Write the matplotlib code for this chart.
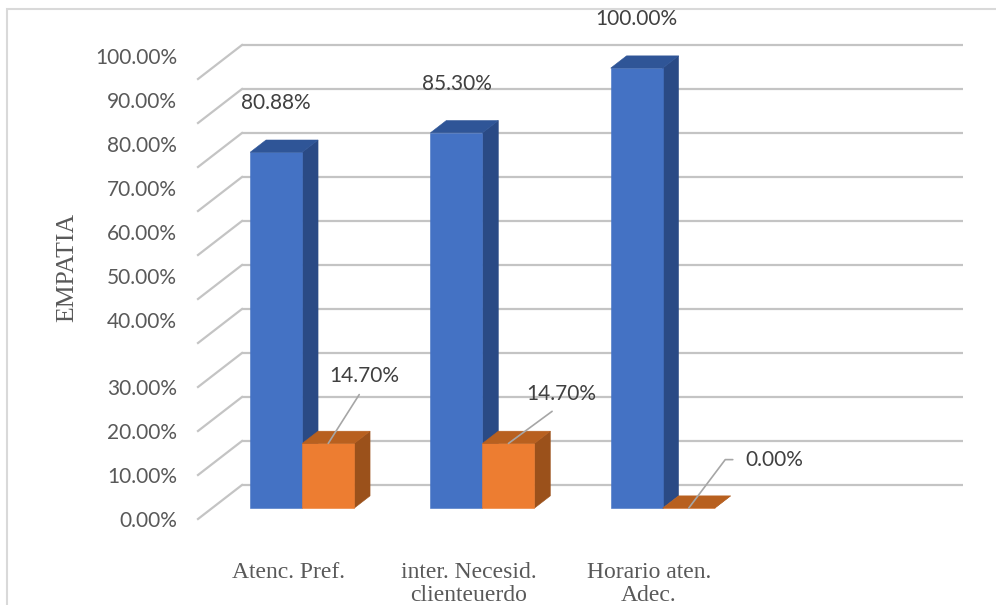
import matplotlib.pyplot as plt
import numpy as np
from matplotlib.patches import Polygon, Rectangle
from matplotlib.transforms import ScaledTranslation

categorias = ['Atenc. Pref.', 'inter. Necesid.\nclienteuerdo', 'Horario aten.\nAdec.']
serie_azul = [0.8088, 0.8530, 1.0000]
serie_naranja = [0.1470, 0.1470, 0.0000]
niveles = [0.0, 0.1, 0.2, 0.3, 0.4, 0.5, 0.6, 0.7, 0.8, 0.9, 1.0]
etiquetas_y = ['0.00%', '10.00%', '20.00%', '30.00%', '40.00%', '50.00%',
               '60.00%', '70.00%', '80.00%', '90.00%', '100.00%']
n_cat = 4  # la cuarta categoria queda vacia

plt.rcParams['font.family'] = ['Lato', 'DejaVu Sans']

# profundidad oblicua (unidades de datos para todo el fondo)
PROF_X = 0.2441
PROF_Y = 0.0773
D_FRENTE = 0.32
D_FONDO = 0.68
ANCHO = 0.2885

AZUL = ('#4472c4', '#2f5597', '#2a4a85')      # frente, tapa, lado
NARANJA = ('#ed7d31', '#b8601f', '#9b511b')


def caja(ax, x0, valor, colores):
    fx, fy = x0 + D_FRENTE * PROF_X, D_FRENTE * PROF_Y
    bx, by = x0 + D_FONDO * PROF_X, D_FONDO * PROF_Y
    frente = [(fx, fy), (fx + ANCHO, fy), (fx + ANCHO, fy + valor), (fx, fy + valor)]
    lado = [(fx + ANCHO, fy), (bx + ANCHO, by), (bx + ANCHO, by + valor), (fx + ANCHO, fy + valor)]
    tapa = [(fx, fy + valor), (fx + ANCHO, fy + valor), (bx + ANCHO, by + valor), (bx, by + valor)]
    for pts, c in ((lado, colores[2]), (frente, colores[0]), (tapa, colores[1])):
        ax.add_patch(Polygon(pts, closed=True, facecolor=c, edgecolor=c, lw=0.4,
                             zorder=3, clip_on=False))
    return fx + ANCHO / 2, fy + valor


fig = plt.figure(figsize=(9.96, 6.05), dpi=100)
fig.patches.append(Rectangle((7 / 996, -0.1), 1.1, 1.1 - 8.5 / 605, transform=fig.transFigure,
                             fill=False, edgecolor='#d9d9d9', lw=1.5))
ax = fig.add_axes([198 / 996, 86 / 605, 721 / 996, 440 / 605])
ax.set_xlim(0, n_cat)
ax.set_ylim(0, 1)
ax.patch.set_visible(False)
for s in ax.spines.values():
    s.set_visible(False)

# pared del fondo y pared izquierda
for v in niveles:
    ax.plot([PROF_X, n_cat + PROF_X], [v + PROF_Y, v + PROF_Y], color='#c4c4c4', lw=1.6,
            solid_capstyle='butt', zorder=1, clip_on=False)
    ax.plot([0, PROF_X], [v, v + PROF_Y], color='#c4c4c4', lw=1.6, zorder=1, clip_on=False)

for i, (a, n) in enumerate(zip(serie_azul, serie_naranja)):
    c = i + 0.5
    pa = caja(ax, c - ANCHO, a, AZUL)
    pn = caja(ax, c, n, NARANJA)
    ax.annotate(f'{a * 100:.2f}%', xy=pa, xytext=(0, 49), textcoords='offset pixels',
                ha='center', va='center', fontsize=15, color='#404040', zorder=5,
                annotation_clip=False)
    if i == 2:
        ax.annotate(f'{n * 100:.2f}%', xy=pn, xytext=(85.5, 48.5), textcoords='offset pixels',
                    ha='center', va='center', fontsize=15, color='#404040', zorder=5,
                    annotation_clip=False,
                    arrowprops=dict(arrowstyle='-', color='#a6a6a6', lw=1.2, shrinkA=7, shrinkB=0,
                                    relpos=(0, 0.5), connectionstyle='angle,angleA=0,angleB=53,rad=0'))
    else:
        off = (36.5, 67.5) if i == 0 else (53, 49)
        ax.annotate(f'{n * 100:.2f}%', xy=pn, xytext=off, textcoords='offset pixels',
                    ha='center', va='center', fontsize=15, color='#404040', zorder=5,
                    annotation_clip=False,
                    arrowprops=dict(arrowstyle='-', color='#a6a6a6', lw=1.2, shrinkA=5, shrinkB=0,
                                    relpos=(0.5, 0)))

ax.set_yticks(niveles, etiquetas_y)
ax.tick_params(axis='y', length=0, pad=15, labelsize=15, labelcolor='#595959')
for v, lbl in zip(niveles, ax.get_yticklabels()):
    if v >= 0.4:
        lbl.set_transform(lbl.get_transform() + ScaledTranslation(0, 0.235, fig.dpi_scale_trans))

ax.set_xticks(np.arange(len(categorias)) + 0.5, categorias)
ax.tick_params(axis='x', length=0, pad=31, labelsize=17, labelcolor='#595959')
for lbl in ax.get_xticklabels():
    lbl.set_fontfamily('Liberation Serif')
    lbl.set_linespacing(1.15)

fig.text(67 / 996, 1 - 267 / 605, 'EMPATIA', rotation=90, ha='center', va='center',
         fontsize=18.5, color='#595959', family='Liberation Serif')

fig.savefig('out.png', dpi=100)
